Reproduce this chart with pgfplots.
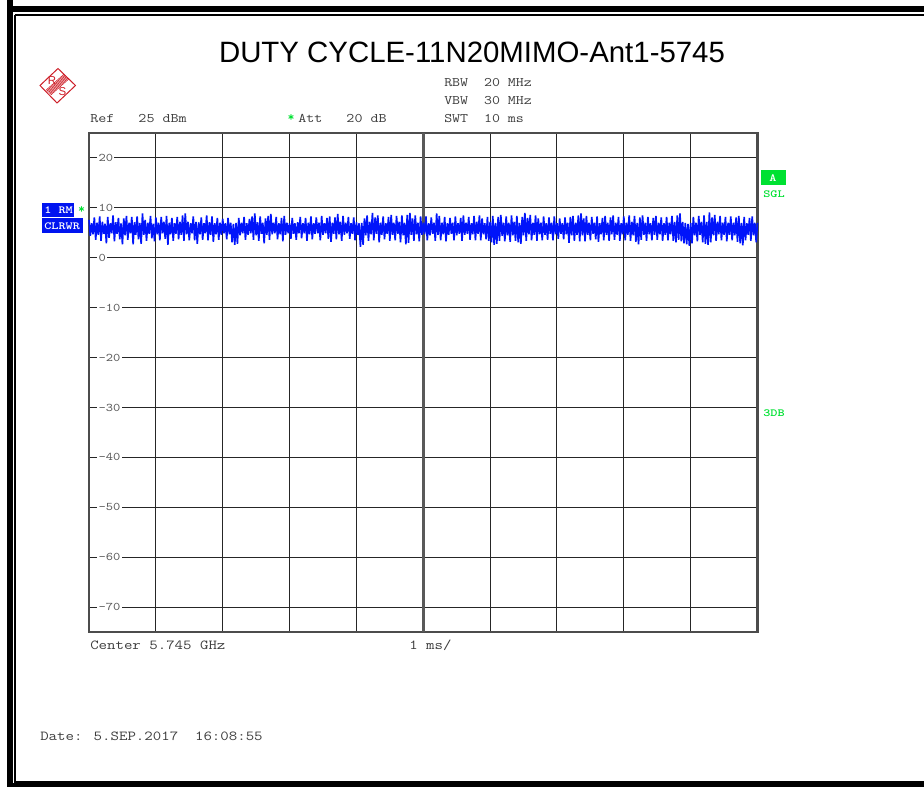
\documentclass[border=0pt]{standalone}
\usepackage{pgfplots}
\pgfplotsset{compat=1.18}
\usepackage{fontspec}
\setmainfont{Liberation Sans}
\definecolor{trace}{RGB}{0,20,250}
\definecolor{lab}{RGB}{0,20,240}
\definecolor{grn}{RGB}{0,225,50}
\definecolor{rsred}{RGB}{205,30,40}
\definecolor{txt}{RGB}{60,60,60}
\newcommand\mt[2]{\scalebox{1}[0.84]{\ttfamily\fontsize{#1pt}{13pt}\selectfont #2}}
\newcommand\mb[2]{\scalebox{1}[0.8]{\ttfamily\bfseries\fontsize{#1pt}{13pt}\selectfont #2}}
\begin{document}
\begin{tikzpicture}
\begin{scope}[x=0.75pt,y=-0.75pt]
\path[use as bounding box,clip] (0,0) rectangle (924,787);
% frame
\draw[line width=4.5pt] (9.7,9) -- (960,9) (9.7,-10) -- (9.7,786) -- (960,786);
\draw[line width=1.5pt] (15,15) -- (960,15) (15,15) -- (15,782) -- (960,782);
% title
\node[anchor=base,inner sep=0] at (472,63) {\fontsize{22.05pt}{24pt}\selectfont DUTY CYCLE-11N20MIMO-Ant1-5745};
% logo
\draw[rsred,line width=0.75pt] (58,68.5) -- (75.5,85.5) -- (57,103) -- (40,85.5) -- cycle;
\foreach \d in {-2.4,-1.6,-0.8,0,0.8,1.6,2.4}
  \draw[rsred,line width=0.45pt] (48.5+\d,92.5+\d) -- (66.5+\d,76.5+\d);
\node[rsred,inner sep=0] at (52,80.5) {\fontsize{8.6pt}{9pt}\selectfont R};
\node[rsred,inner sep=0] at (62.5,91.5) {\fontsize{8.6pt}{9pt}\selectfont S};
% header
\begin{scope}[every node/.style={anchor=base west,inner sep=0,text=txt}]
\node at (444,87) {\mt{11.6}{RBW\ \ 20 MHz}};
\node at (444,105) {\mt{11.6}{VBW\ \ 30 MHz}};
\node at (444,123) {\mt{11.6}{SWT\ \ 10 ms}};
\node at (90,123) {\mt{11.7}{Ref\ \ \ 25 dBm}};
\node at (298,123) {\mt{11.7}{Att\ \ \ 20 dB}};
\node at (90,649) {\mt{12.3}{Center 5.745 GHz}};
\node at (409,649) {\mt{12.3}{1 ms/}};
\node at (40,740) {\mt{12.3}{Date: 5.SEP.2017\ \ 16:08:55}};
\end{scope}
\node[text=grn,inner sep=0] at (291,118) {\ttfamily\bfseries\fontsize{10pt}{9pt}\selectfont *};
\node[text=grn,inner sep=0] at (81.5,210) {\ttfamily\bfseries\fontsize{10pt}{9pt}\selectfont *};
% left labels
\fill[lab] (42,203) rectangle (74,217);
\fill[lab] (42,218.5) rectangle (83,233);
\node[anchor=base west,inner sep=0,text=white] at (44,213.5) {\mb{10.2}{1 RM}};
\node[anchor=base west,inner sep=0,text=white] at (44,229.5) {\mb{10.2}{CLRWR}};
% right labels
\fill[grn] (761,170) rectangle (785.5,185);
\node[text=white,inner sep=0] at (773,178) {\mb{10.2}{A}};
\node[text=grn,inner sep=0] at (774,194) {\mb{10.2}{SGL}};
\node[text=grn,inner sep=0] at (774,413) {\mb{10.2}{3DB}};
\end{scope}
\begin{axis}[
  at={(66.75pt,-474pt)},anchor=south west,
  scale only axis,width=501.4pt,height=374.25pt,
  xmin=0,xmax=500,ymin=-75,ymax=25,
  xtick={50,100,150,200,300,350,400,450},xticklabels={},
  extra x ticks={250},extra x tick labels={},
  extra x tick style={grid style={line width=2.4pt,color=black!65}},
  ytick={-70,-60,-50,-40,-30,-20,-10,0,10,20},
  yticklabels={\mt{10.4}{-70},\mt{10.4}{-60},\mt{10.4}{-50},\mt{10.4}{-40},\mt{10.4}{-30},\mt{10.4}{-20},\mt{10.4}{-10},\mt{10.4}{0},\mt{10.4}{10},\mt{10.4}{20}},
  ymajorgrids,xmajorgrids,
  grid style={line width=0.75pt,color=black!85},
  major tick length=0pt,
  axis line style={line width=1.7pt,color=black!70},
  yticklabel style={anchor=west,xshift=6.0pt,fill=white,inner sep=1pt,text=black!65},
  clip=false,
]
\addplot[trace,line width=1.2pt,line join=bevel] coordinates {
(0,7.6)(1,4.4)(2,6.9)(3,4.7)(4,8.1)(5,3.6)(6,7.0)(7,4.6)(8,8.3)(9,3.4)(10,7.2)(11,4.8)(12,6.8)(13,2.9)(14,8.2)(15,4.0)(16,6.9)(17,4.9)(18,8.5)(19,3.3)(20,7.1)(21,4.8)(22,8.0)(23,3.7)(24,6.9)
(25,2.7)(26,7.9)(27,4.5)(28,8.4)(29,3.6)(30,7.0)(31,4.9)(32,8.2)(33,2.7)(34,7.1)(35,4.6)(36,8.3)(37,3.7)(38,7.0)(39,2.8)(40,8.9)(41,4.6)(42,7.6)(43,3.4)(44,7.0)(45,4.8)(46,8.4)(47,3.9)(48,6.8)(49,3.3)
(50,8.1)(51,4.7)(52,7.0)(53,3.5)(54,8.2)(55,4.9)(56,7.2)(57,3.8)(58,8.4)(59,2.6)(60,7.0)(61,4.7)(62,8.0)(63,3.4)(64,6.9)(65,4.8)(66,8.2)(67,3.7)(68,7.2)(69,4.6)(70,8.5)(71,3.4)(72,8.9)(73,4.7)(74,7.2)
(75,3.5)(76,6.9)(77,4.9)(78,8.3)(79,3.5)(80,7.2)(81,2.8)(82,7.1)(83,4.7)(84,8.1)(85,3.6)(86,6.9)(87,4.9)(88,8.5)(89,3.5)(90,7.1)(91,4.6)(92,8.3)(93,3.2)(94,6.9)(95,4.7)(96,8.0)(97,3.6)(98,7.0)(99,4.6)
(100,7.8)(101,4.9)(102,6.9)(103,3.7)(104,8.0)(105,4.7)(106,7.0)(107,3.1)(108,6.8)(109,2.6)(110,7.0)(111,2.8)(112,8.0)(113,4.5)(114,7.0)(115,4.9)(116,8.2)(117,3.6)(118,6.9)(119,4.6)(120,7.8)(121,4.9)(122,8.3)(123,3.6)(124,8.9)
(125,4.5)(126,7.1)(127,3.4)(128,8.3)(129,4.8)(130,7.0)(131,2.9)(132,7.9)(133,4.6)(134,8.4)(135,3.6)(136,8.8)(137,4.7)(138,7.0)(139,4.9)(140,8.2)(141,3.7)(142,6.9)(143,4.7)(144,8.0)(145,3.3)(146,8.4)(147,4.6)(148,7.0)(149,4.9)
(150,6.9)(151,3.8)(152,8.0)(153,4.8)(154,6.9)(155,3.6)(156,7.1)(157,4.9)(158,8.2)(159,3.9)(160,6.9)(161,4.9)(162,8.0)(163,3.4)(164,7.0)(165,4.7)(166,8.3)(167,3.7)(168,6.9)(169,4.8)(170,8.1)(171,4.9)(172,7.0)(173,3.5)(174,8.4)
(175,4.6)(176,6.9)(177,4.9)(178,8.0)(179,3.8)(180,8.3)(181,3.2)(182,7.0)(183,4.8)(184,8.1)(185,3.7)(186,8.8)(187,4.7)(188,7.2)(189,3.4)(190,8.4)(191,4.6)(192,7.0)(193,4.9)(194,8.2)(195,3.8)(196,6.9)(197,4.8)(198,8.1)(199,3.5)
(200,7.1)(201,4.6)(202,6.9)(203,2.2)(204,7.0)(205,2.6)(206,7.9)(207,4.5)(208,8.5)(209,3.4)(210,7.2)(211,4.7)(212,9.0)(213,3.5)(214,8.1)(215,4.8)(216,8.5)(217,3.1)(218,7.0)(219,4.6)(220,8.3)(221,3.7)(222,6.9)(223,4.8)(224,8.2)
(225,3.4)(226,8.6)(227,4.6)(228,7.0)(229,3.5)(230,8.4)(231,4.8)(232,7.2)(233,3.1)(234,8.5)(235,4.5)(236,7.0)(237,2.7)(238,8.6)(239,3.0)(240,9.0)(241,4.6)(242,7.9)(243,3.4)(244,8.5)(245,4.7)(246,7.0)(247,3.3)(248,8.3)(249,4.6)
(250,7.0)(251,4.7)(252,8.3)(253,3.5)(254,6.9)(255,4.5)(256,8.1)(257,4.8)(258,7.0)(259,3.4)(260,8.9)(261,4.6)(262,8.4)(263,3.5)(264,7.0)(265,4.7)(266,8.2)(267,3.3)(268,6.9)(269,4.6)(270,8.0)(271,4.8)(272,7.0)(273,3.5)(274,8.3)
(275,4.5)(276,6.9)(277,4.8)(278,8.0)(279,3.4)(280,8.5)(281,4.6)(282,7.0)(283,4.8)(284,8.2)(285,3.6)(286,6.9)(287,4.7)(288,8.4)(289,3.5)(290,7.2)(291,4.8)(292,8.5)(293,3.5)(294,7.9)(295,4.7)(296,6.9)(297,3.7)(298,8.2)(299,3.4)
(300,7.2)(301,3.1)(302,8.4)(303,2.6)(304,7.0)(305,2.8)(306,8.2)(307,3.4)(308,8.6)(309,4.4)(310,7.0)(311,3.3)(312,8.3)(313,4.5)(314,7.0)(315,3.2)(316,8.5)(317,4.5)(318,7.2)(319,3.4)(320,8.4)(321,3.1)(322,7.0)(323,2.8)(324,8.2)
(325,4.5)(326,9.0)(327,3.4)(328,8.0)(329,4.7)(330,8.6)(331,3.5)(332,7.0)(333,4.6)(334,8.5)(335,3.4)(336,7.9)(337,4.7)(338,7.0)(339,3.5)(340,8.3)(341,4.6)(342,6.9)(343,3.6)(344,8.1)(345,4.8)(346,7.0)(347,3.5)(348,8.3)(349,4.7)
(350,6.9)(351,3.8)(352,7.9)(353,4.8)(354,6.9)(355,3.7)(356,8.1)(357,4.7)(358,7.0)(359,3.0)(360,8.2)(361,4.5)(362,8.4)(363,3.4)(364,7.0)(365,4.6)(366,8.5)(367,3.3)(368,8.9)(369,4.5)(370,7.9)(371,3.3)(372,8.4)(373,4.6)(374,7.0)
(375,3.5)(376,8.2)(377,4.8)(378,7.0)(379,3.7)(380,8.3)(381,3.2)(382,6.9)(383,4.7)(384,8.0)(385,3.5)(386,8.4)(387,4.6)(388,7.0)(389,3.4)(390,8.1)(391,4.7)(392,8.5)(393,3.6)(394,7.0)(395,4.6)(396,8.2)(397,3.4)(398,6.9)(399,4.7)
(400,8.3)(401,3.5)(402,7.0)(403,4.6)(404,8.5)(405,3.4)(406,7.2)(407,4.5)(408,8.4)(409,3.2)(410,7.0)(411,2.7)(412,8.1)(413,3.6)(414,8.5)(415,4.6)(416,7.0)(417,3.4)(418,8.2)(419,4.7)(420,6.9)(421,3.5)(422,8.0)(423,4.6)(424,8.4)
(425,3.6)(426,7.0)(427,4.7)(428,8.1)(429,3.4)(430,6.9)(431,4.6)(432,8.2)(433,3.5)(434,7.0)(435,4.7)(436,8.4)(437,3.4)(438,7.2)(439,3.1)(440,8.5)(441,3.6)(442,8.9)(443,3.3)(444,7.2)(445,2.9)(446,7.0)(447,2.7)(448,6.8)(449,2.4)
(450,7.0)(451,2.9)(452,8.2)(453,4.5)(454,7.0)(455,3.3)(456,8.4)(457,4.6)(458,7.2)(459,3.1)(460,8.5)(461,2.8)(462,7.2)(463,2.6)(464,9.1)(465,3.1)(466,8.1)(467,4.5)(468,8.6)(469,3.4)(470,7.2)(471,4.7)(472,8.4)(473,3.5)(474,7.0)
(475,4.6)(476,8.2)(477,3.3)(478,7.0)(479,4.6)(480,8.3)(481,3.5)(482,7.0)(483,4.5)(484,8.1)(485,3.2)(486,8.4)(487,2.9)(488,7.0)(489,2.5)(490,8.2)(491,3.5)(492,6.9)(493,4.6)(494,8.0)(495,3.4)(496,8.3)(497,4.5)(498,7.0)(499,3.1)(500,7.0)
};
\end{axis}
\end{tikzpicture}
\end{document}
